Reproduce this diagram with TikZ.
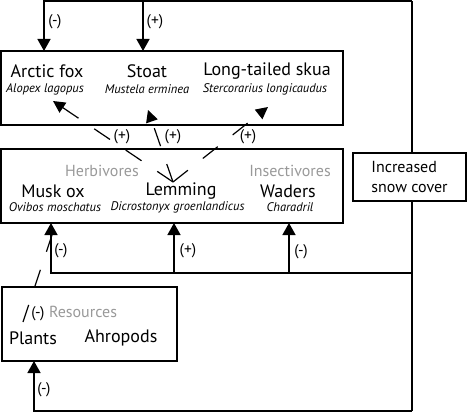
\documentclass[tikz,border=0pt]{standalone}
\usepackage{fontspec}
\setmainfont{PT Sans}
\usetikzlibrary{arrows.meta}
\definecolor{lgray}{gray}{0.6}
\tikzset{
  box/.style={draw, line width=1.4pt, inner sep=0pt},
  ln/.style={line width=1.4pt},
  arr/.style={line width=1.4pt, -{Triangle[width=13pt,length=12pt]}},
  darr/.style={line width=1.2pt, dash pattern=on 19pt off 19pt, -{Triangle[width=12pt,length=12pt]}},
  dln/.style={line width=1.2pt, dash pattern=on 18pt off 19pt},
  big/.style={inner sep=0pt, font=\fontsize{18}{20}\selectfont},
  sp/.style={inner sep=0pt, font=\fontsize{12.5}{14}\selectfont\itshape},
  grp/.style={inner sep=0pt, text=lgray, font=\fontsize{16}{18}\selectfont},
  sign/.style={inner sep=0pt, font=\fontsize{15.5}{17}\selectfont},
}
\begin{document}
\begin{tikzpicture}[x=1pt,y=-1pt]
\useasboundingbox (0,0) rectangle (468,412);
% boxes
\node[box, minimum width=342pt, minimum height=74pt] (topbox) at (172,88) {};
\node[box, minimum width=342pt, minimum height=74pt] (midbox) at (172,186) {};
\node[box, minimum width=175pt, minimum height=74pt] (resbox) at (89.5,324) {};
\node[box, minimum width=113pt, minimum height=48pt, fill=white,
      align=left, font=\fontsize{16}{20}\selectfont] (snow) at (409.5,177) {Increased\\snow cover};
% predators
\node[big] (fox) at (47,71) {Arctic fox};
\node[sp] (foxsp) at (45,89) {Alopex lagopus};
\node[big] (stoat) at (147,71) {Stoat};
\node[sp] (stoatsp) at (147,89) {Mustela erminea};
\node[big] (skua) at (267,71) {Long-tailed skua};
\node[sp] (skuasp) at (265,89) {Stercorarius longicaudus};
% prey
\node[grp] (herb) at (102,171) {Herbivores};
\node[grp] (insect) at (290,171) {Insectivores};
\node[big] (musk) at (53,191) {Musk ox};
\node[sp] (musksp) at (55,207) {Ovibos moschatus};
\node[big] (lem) at (181,191) {Lemming};
\node[sp] (lemsp) at (177.5,207) {Dicrostonyx groenlandicus};
\node[big] (wad) at (288,191) {Waders};
\node[sp] (wadsp) at (290,207) {Charadril};
% resources
\node[grp] (resl) at (83,312) {Resources};
\node[sign] (resm) at (38,314) {(-)};
\node[big] (plants) at (33,338) {Plants};
\node[big] (arth) at (121,338) {Ahropods};
% coordinates
\coordinate (rt) at (412,1);
\coordinate (rm) at (412,273);
\coordinate (rb) at (412,411);
\coordinate (foxin) at (44,51);
\coordinate (stoatin) at (143,51);
\coordinate (muskin) at (51,223);
\coordinate (lemin) at (174,223);
\coordinate (wadin) at (289,223);
\coordinate (resin) at (34,361);
\coordinate (hub) at (173,182);
\coordinate (foxtip) at (53,101);
\coordinate (stoattip) at (148,110);
\coordinate (skuatip) at (268,107);
\coordinate (plsrc) at (23,322);
\coordinate (plend) at (52,235);
% snow cover connectors
\draw[ln] (snow.north -| rt) -- (rt);
\draw[ln] (snow.south -| rt) -- (rb);
\draw[arr] (rt) -| (foxin);
\draw[arr] (rt -| stoatin) -- (stoatin);
\draw[arr] (rm) -| (muskin);
\draw[arr] (rm -| lemin) -- (lemin);
\draw[arr] (rm -| wadin) -- (wadin);
\draw[arr] (rb) -| (resin);
% lemming to predators
\draw[darr] (hub) -- (foxtip);
\draw[darr] (hub) -- (stoattip);
\draw[darr] (hub) -- (skuatip);
% plants to musk ox
\draw[dln] (plsrc) -- (plend);
% signs
\node[sign] (s1) at (55,22) {(-)};
\node[sign] (s2) at (155,22) {(+)};
\node[sign] (s3) at (122,137) {(+)};
\node[sign] (s4) at (173,137) {(+)};
\node[sign] (s5) at (248,137) {(+)};
\node[sign] (s6) at (61,251) {(-)};
\node[sign] (s7) at (188,251) {(+)};
\node[sign] (s8) at (301,252) {(-)};
\node[sign] (s9) at (44,390) {(-)};
\end{tikzpicture}
\end{document}
